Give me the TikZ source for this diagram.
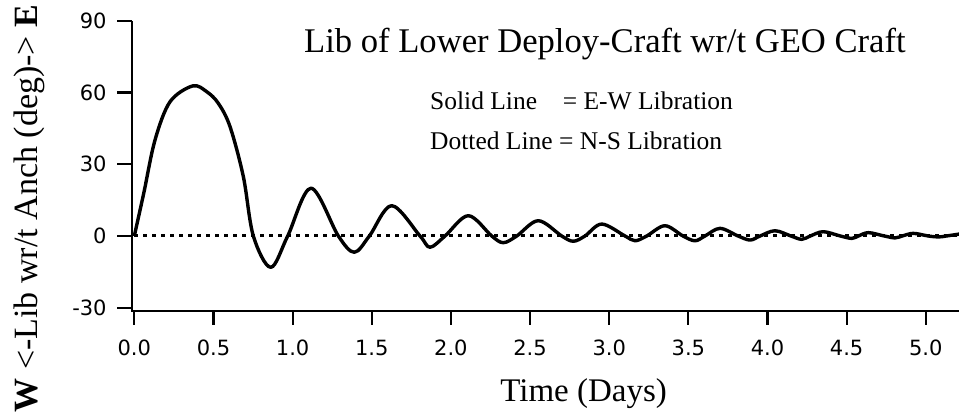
\documentclass[tikz,border=0pt]{standalone}
\usepackage{fontspec}
\setmainfont{Liberation Serif}
\newfontfamily\tickfont{DejaVu Sans}
\usetikzlibrary{positioning}

\begin{document}
\begin{tikzpicture}[x=158.3pt,y=2.39pt,
  axisline/.style={line width=2.2pt,line join=miter},
  ticklabel/.style={font=\tickfont\fontsize{21}{24}\selectfont,inner sep=0pt},
  ewline/.style={line width=3.4pt,line join=round},
  nsline/.style={line width=3pt,dash pattern=on 4pt off 5pt},
  plaintext/.style={inner sep=0pt,anchor=base west}]

  \useasboundingbox (-0.8484,-73.64) rectangle (5.2097,98.745);

  % axes
  \coordinate (ytop) at (-0.0164,90);
  \coordinate (corner) at (-0.0164,-31.38);
  \coordinate (xend) at (5.2097,-31.38);
  \draw[axisline] (ytop) -- (corner) -- (xend);

  % draw ticks for y axis
  \foreach \y [count=\i] in {-30,0,30,60,90}
    \draw[axisline] (-0.0164,\y) -- ++(-15pt,0)
      node[ticklabel,left=9pt] (ytl\i) {\y};

  % draw ticks for x axis
  \foreach \t [count=\i] in {0.0,0.5,1.0,1.5,2.0,2.5,3.0,3.5,4.0,4.5,5.0}
    \draw[axisline] (\t,-31.38) -- ++(0,-14pt)
      node[ticklabel,anchor=base,yshift=-30.5pt] (xtl\i) {\t};

  % N-S libration stays at zero
  \coordinate (nsstart) at (0,0);
  \coordinate (nsend) at (5.2097,0);
  \draw[nsline] (nsstart) -- (nsend);

  % E-W libration
  \draw[ewline] plot[smooth,tension=0.55] coordinates {(0,0) (0.06,18)
    (0.131,40.2) (0.226,56.2) (0.369,62.8) (0.457,60.4) (0.531,55.5)
    (0.605,45.7) (0.689,24.8) (0.752,0) (0.862,-13.1) (0.969,0)
    (1.116,20.0) (1.289,0) (1.39,-6.8) (1.485,0) (1.626,12.7) (1.805,0)
    (1.868,-4.7) (1.963,0) (2.11,8.5) (2.258,0) (2.331,-2.8) (2.416,0)
    (2.552,6.4) (2.70,0) (2.773,-2.2) (2.847,0) (2.953,5.0) (3.10,0)
    (3.163,-2.0) (3.237,0) (3.352,4.3) (3.466,0) (3.542,-2.0) (3.605,0)
    (3.70,3.2) (3.814,0) (3.89,-1.7) (3.953,0) (4.047,2.2) (4.148,0)
    (4.216,-1.4) (4.27,0) (4.352,1.8) (4.46,0) (4.532,-1.0) (4.574,0)
    (4.637,1.4) (4.738,0) (4.805,-0.8) (4.851,0) (4.921,1.1) (5.016,0)
    (5.08,-0.4) (5.13,0) (5.21,0.8)};

  % labels
  \node[plaintext,font=\fontsize{34.6}{40}\selectfont] (title) at (1.072,76.6)
    {Lib of Lower Deploy-Craft wr/t GEO Craft};
  \node[plaintext,font=\fontsize{25.5}{30}\selectfont] (legsolid) at (1.868,53.0)
    {\makebox[5.2em][l]{Solid Line}= E-W Libration};
  \node[plaintext,font=\fontsize{25.5}{30}\selectfont] (legdotted) at (1.868,36.3)
    {\makebox[5.055em][l]{Dotted Line}= N-S Libration};
  \node[plaintext,font=\fontsize{33}{38}\selectfont] (xlabel) at (2.311,-69.4)
    {Time (Days)};
  \node[rotate=90,anchor=base,inner sep=0pt,font=\fontsize{34}{40}\selectfont]
    (ylabel) at (-0.612,11.5) {\textbf{W} <-Lib wr/t Anch (deg)-> \textbf{E}};

\end{tikzpicture}
\end{document}
